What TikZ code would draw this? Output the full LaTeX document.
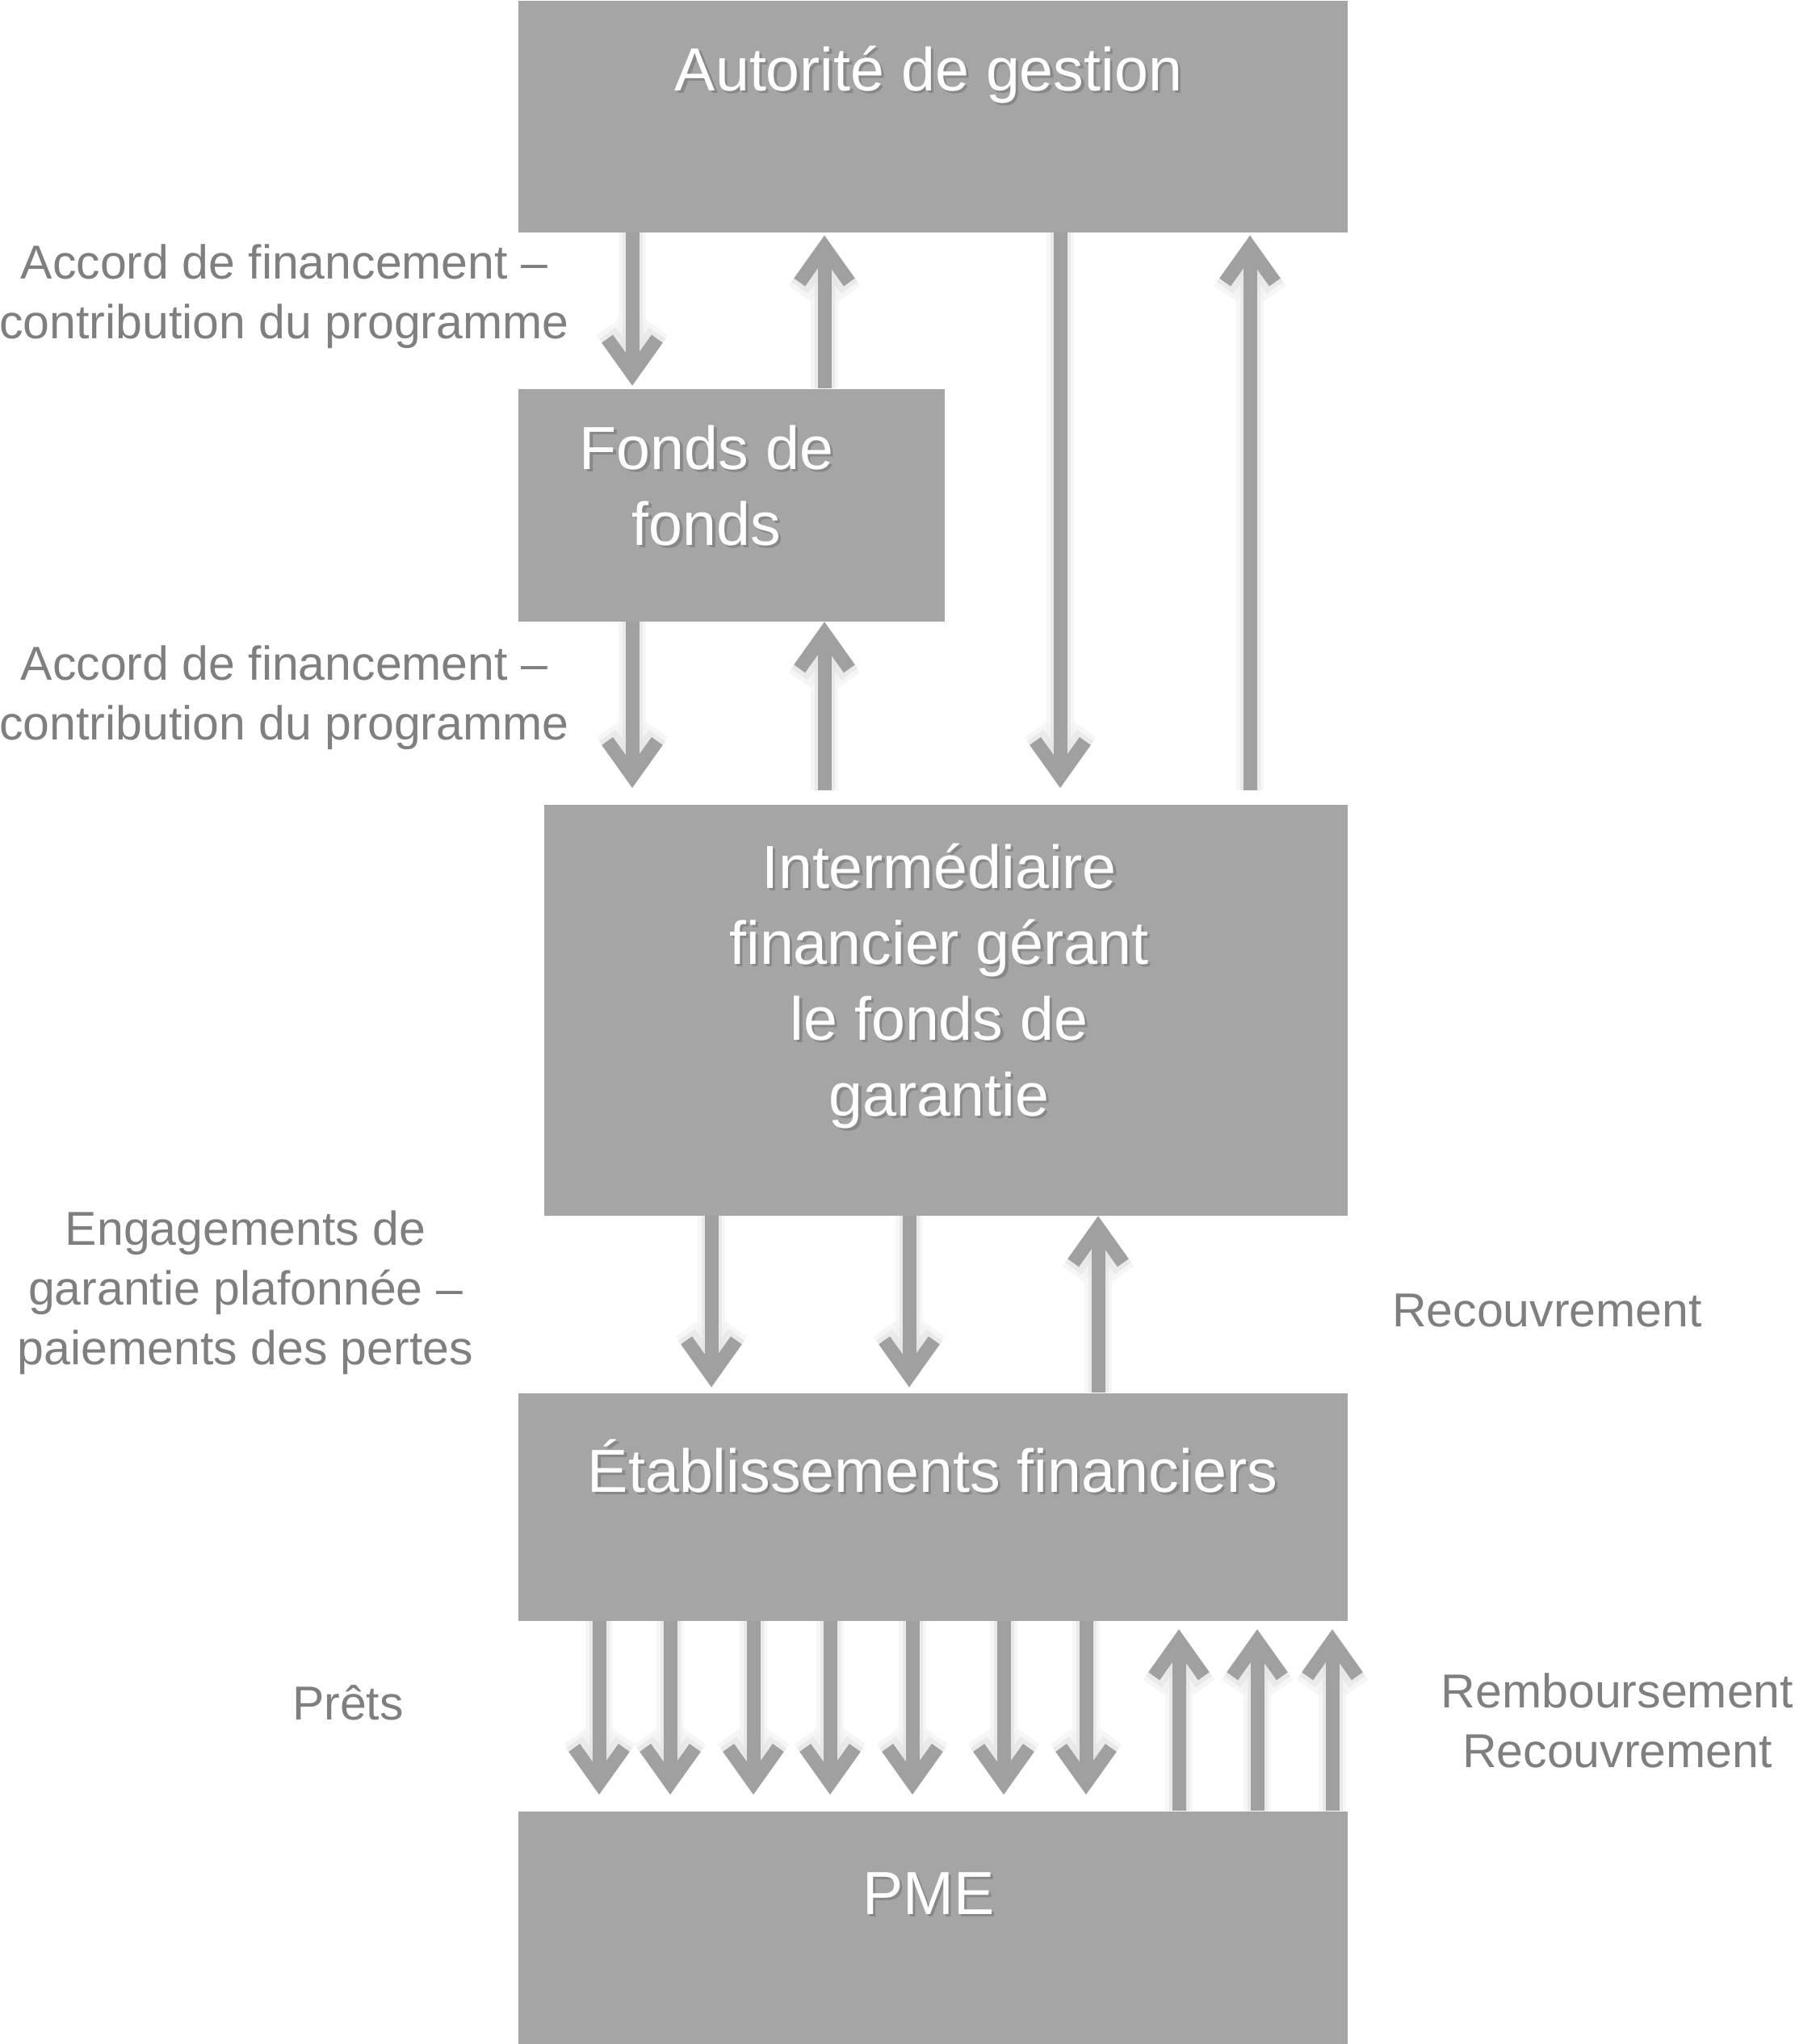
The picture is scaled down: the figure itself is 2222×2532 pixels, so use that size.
\documentclass[tikz,border=0pt]{standalone}
\usepackage{fontspec}
\setmainfont{Liberation Sans}
\usetikzlibrary{arrows.meta}
\definecolor{boxgray}{HTML}{A5A5A5}
\definecolor{arrgray}{HTML}{A0A0A0}
\definecolor{txtgray}{HTML}{7F7F7F}
\definecolor{shade}{HTML}{888888}
\newcommand{\shd}[1]{\makebox[0pt][l]{\hspace{1pt}\raisebox{-1pt}{\textcolor{shade}{#1}}}#1}

\begin{document}
\begin{tikzpicture}[x=0.3pt, y=-0.3pt,
  box/.style={rectangle, fill=boxgray, anchor=north west, inner sep=0pt},
  boxtext/.style={text=white, align=center, anchor=base,
                  font=\fontsize{22.6}{28.2}\selectfont},
  lbl/.style={text=txtgray, align=center, font=\fontsize{17.7}{22.2}\selectfont},
  arr/.style={draw=arrgray, line width=5.1pt,
              -{Straight Barb[length=13pt, width=18.5pt]},
              preaction={draw=black!6, line width=10pt, opacity=0.6},
              preaction={draw=black!10, line width=7.5pt, opacity=0.7}}]
\useasboundingbox (0,0) rectangle (2222,2532);

% boxes
\node[box, minimum width=308.1pt, minimum height=86.1pt] (aut) at (641,0) {};
\node[box, minimum width=158.4pt, minimum height=86.4pt] (fdf) at (641,481) {};
\node[box, minimum width=298.5pt, minimum height=152.7pt] (int) at (673,996) {};
\node[box, minimum width=308.1pt, minimum height=84.6pt] (etab) at (641,1725) {};
\node[box, minimum width=308.1pt, minimum height=86.7pt] (pme) at (641,2243) {};

\node[boxtext] (aut-t) at (1150,112) {\shd{Autorité de gestion}};
\node[boxtext] (fdf-t) at (875,675) {\shd{Fonds de}\\\shd{fonds}};
\node[boxtext] (int-t) at (1163,1382) {\shd{Intermédiaire}\\\shd{financier gérant}\\
  \shd{le fonds de}\\\shd{garantie}};
\node[boxtext] (etab-t) at (1155,1848) {\shd{Établissements financiers}};
\node[boxtext] (pme-t) at (1150,2371) {\shd{PME}};

% labels
\node[lbl] (acc1) at (352,367) {Accord de financement –\\contribution du programme};
\node[lbl] (acc2) at (352,864) {Accord de financement –\\contribution du programme};
\node[lbl] (eng) at (304,1601) {Engagements de\\garantie plafonnée –\\paiements des pertes};
\node[lbl] (rec) at (1916,1623) {Recouvrement};
\node[lbl] (pret) at (431,2109) {Prêts};
\node[lbl] (remb) at (2003,2131) {Remboursement\\Recouvrement};

% arrows
\draw[arr, shorten >=1pt] (aut.south -| 783,0) -- (fdf.north -| 783,0);
\draw[arr, shorten >=1pt] (fdf.north -| 1021,0) -- (aut.south -| 1021,0);
\draw[arr, shorten >=6pt] (aut.south -| 1313,0) -- (int.north -| 1313,0);
\draw[arr, shorten <=5pt, shorten >=1pt] (int.north -| 1548,0) -- (aut.south -| 1548,0);
\draw[arr, shorten >=6pt] (fdf.south -| 783,0) -- (int.north -| 783,0);
\draw[arr, shorten <=5pt] (int.north -| 1021,0) -- (fdf.south -| 1021,0);

\foreach \x in {881,1126}
  \draw[arr, shorten >=2pt] (int.south -| \x,0) -- (etab.north -| \x,0);
\draw[arr] (etab.north -| 1360,0) -- (int.south -| 1360,0);

\foreach \x in {742,830,933,1028,1130,1243,1345}
  \draw[arr, shorten >=6pt] (etab.south -| \x,0) -- (pme.north -| \x,0);
\foreach \x in {1460,1557,1650}
  \draw[arr, shorten >=3pt] (pme.north -| \x,0) -- (etab.south -| \x,0);
\end{tikzpicture}
\end{document}
